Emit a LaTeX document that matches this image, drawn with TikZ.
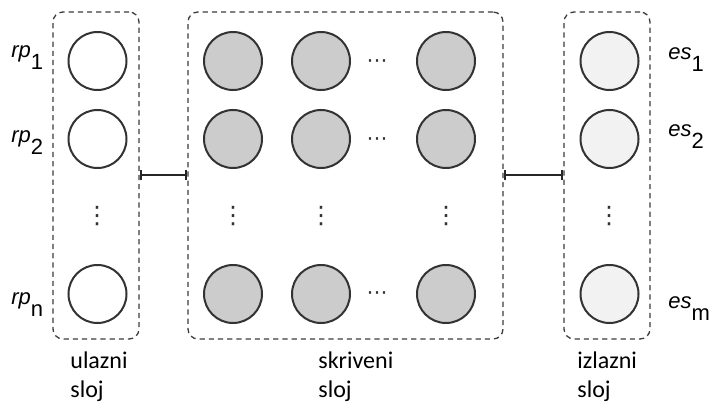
\documentclass[tikz,border=0pt]{standalone}
\usepackage{fontspec}
\setmainfont{Liberation Sans}
\newfontfamily\captionfont{Carlito}
\newfontfamily\symbolfont{DejaVu Sans}
\usetikzlibrary{arrows.meta}
\definecolor{edgegray}{HTML}{333333}
\definecolor{boxgray}{HTML}{3C3C3C}
\definecolor{hidfill}{HTML}{CCCCCC}
\definecolor{outfill}{HTML}{F2F2F2}
% italic unit name with an upright, lowered index
\newcommand\unitname[2]{\textit{#1}\raisebox{-6pt}{#2}}
\begin{document}
\begin{tikzpicture}[x=0.5pt,y=-0.5pt,
  neuron/.style={circle,draw=edgegray,line width=1pt,minimum size=29pt,inner sep=0pt},
  inunit/.style={neuron,fill=white},
  hidunit/.style={neuron,fill=hidfill},
  outunit/.style={neuron,fill=outfill},
  layerbox/.style={draw=boxgray,line width=0.65pt,dash pattern=on 2.6pt off 2pt,
    rounded corners=5pt,inner sep=0pt,minimum height=163.5pt},
  link/.style={draw=black!85,line width=1pt,{Bar[width=5pt]}-{Bar[width=5pt]}},
  unitlabel/.style={inner sep=0pt,font=\fontsize{11}{13}\selectfont},
  caption/.style={inner sep=0pt,align=left,anchor=north west,
    font=\captionfont\fontsize{12}{14.5}\selectfont},
  vdotsnode/.style={inner sep=0pt,text=black!80,font=\symbolfont\fontsize{12}{12}\selectfont},
  hdotsnode/.style={inner sep=0pt,text=black!80,font=\symbolfont\fontsize{10.5}{10.5}\selectfont}
]
\useasboundingbox (0,0) rectangle (711,405);

% layer frames
\node[layerbox,minimum width=43pt]   (inbox)  at (96,175.5)    {};
\node[layerbox,minimum width=157.5pt] (hidbox) at (345.5,175.5) {};
\node[layerbox,minimum width=43pt]   (outbox) at (607,175.5)   {};

% connections between the layers
\draw[link] (inbox.east) -- (hidbox.west);
\draw[link] (hidbox.east) -- (outbox.west);

% input layer
\node[inunit] (in1) at (97.5,61)  {};
\node[inunit] (in2) at (97.5,139) {};
\node[inunit] (inn) at (97.5,294) {};
\node[vdotsnode] (indots) at (97,216) {⋮};

% hidden layer
\foreach \c/\x in {a/233,b/321,c/446}{
  \node[hidunit] (h\c1) at (\x,61)  {};
  \node[hidunit] (h\c2) at (\x,139) {};
  \node[hidunit] (h\c n) at (\x,294) {};
  \node[vdotsnode] (h\c dots) at (\x,216) {⋮};
}
\node[hdotsnode] (hdots1) at (377,64)  {⋯};
\node[hdotsnode] (hdots2) at (377,142) {⋯};
\node[hdotsnode] (hdotsn) at (377,296) {⋯};

% output layer
\node[outunit] (out1) at (609.5,61)  {};
\node[outunit] (out2) at (609.5,139) {};
\node[outunit] (outm) at (609.5,294) {};
\node[vdotsnode] (outdots) at (609,216) {⋮};

% unit labels
\node[unitlabel,anchor=base west] (lin1) at (11,58)  {\unitname{rp}{1}};
\node[unitlabel,anchor=base west] (lin2) at (11,143) {\unitname{rp}{2}};
\node[unitlabel,anchor=base west] (linn) at (11,305) {\unitname{rp}{n}};
\node[unitlabel,anchor=base west] (lout1) at (668,60)  {\unitname{es}{1}};
\node[unitlabel,anchor=base west] (lout2) at (668,137) {\unitname{es}{2}};
\node[unitlabel,anchor=base west] (loutm) at (668,308) {\unitname{es}{m}};

% layer captions
\node[caption] (capin)  at (70,351)  {ulazni\\sloj};
\node[caption] (caphid) at (318,351) {skriveni\\sloj};
\node[caption] (capout) at (577,351) {izlazni\\sloj};
\end{tikzpicture}
\end{document}
